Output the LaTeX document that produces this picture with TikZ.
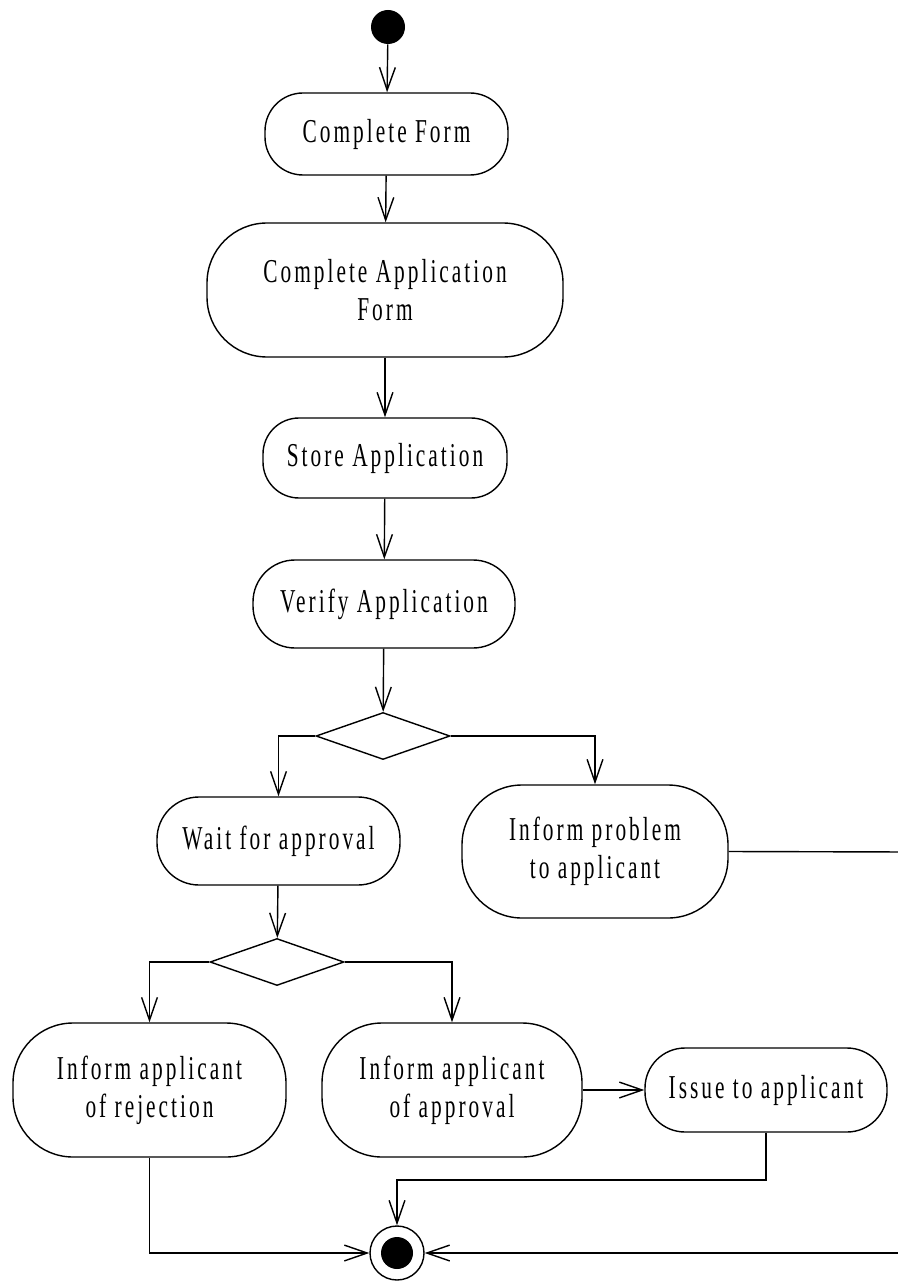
\documentclass[tikz,border=0pt]{standalone}
\usepackage{fontspec}
\newfontfamily\actfont[FakeStretch=0.64,LetterSpace=9]{Liberation Serif}
\usetikzlibrary{arrows.meta,shapes.geometric}
\tikzset{
  act/.style n args={3}{draw, line width=0.8pt, rectangle, rounded corners={#3*0.02cm},
    minimum width={#1*0.02cm}, minimum height={#2*0.02cm}, inner sep=0pt, align=center,
    font=\actfont\fontsize{19}{21.5}\selectfont},
  dec/.style={draw, line width=0.8pt, diamond, inner sep=0pt, minimum width={134*0.02cm}, minimum height={47*0.02cm}},
  flow/.style={line width=0.8pt, -{Straight Barb[length=13pt,width=9pt,line width=0.8pt]}},
  line/.style={line width=0.8pt},
}
\begin{document}
\begin{tikzpicture}[x=0.02cm,y=-0.02cm]
\useasboundingbox (0,0) rectangle (897,1283);
\node[circle, fill=black, inner sep=0pt, minimum size={34*0.02cm}] (start) at (388,27) {};
\node[act={243}{82}{38}] (cf) at (386.5,134) {Complete Form};
\node[act={356}{134}{60}] (caf) at (385,290) {Complete Application\\Form};
\node[act={244}{80}{36}] (sa) at (385,458) {Store Application};
\node[act={262}{88}{42}] (va) at (384,604) {Verify Application};
\node[dec] (d1) at (383,736) {};
\node[act={243}{88}{42}] (wa) at (278.5,841) {Wait for approval};
\node[act={266}{133}{60}] (ip) at (595,851.5) {Inform problem\\to applicant};
\node[dec] (d2) at (277,962) {};
\node[act={273}{134}{60}] (rej) at (149.5,1090) {Inform applicant\\of rejection};
\node[act={260}{134}{60}] (app) at (452,1090) {Inform applicant\\of approval};
\node[act={242}{84}{40}] (iss) at (766,1090) {Issue to applicant};
\node[circle, draw, line width=0.8pt, inner sep=0pt, minimum size={54*0.02cm}] (fin) at (397,1253) {};
\node[circle, fill=black, inner sep=0pt, minimum size={32*0.02cm}] (fini) at (397,1253) {};
\coordinate (bend) at (397,1180);
\coordinate (rx1) at (910,852);
\coordinate (rx2) at (910,1253);

\draw[flow] (start) -- (cf);
\draw[flow] (cf) -- (caf);
\draw[flow] (caf) -- (sa);
\draw[flow] (sa) -- (va);
\draw[flow] (va) -- (d1);
\draw[flow] (d1.west) -| (wa.north);
\draw[flow] (d1.east) -| (ip.north);
\draw[flow] (wa) -- (d2);
\draw[flow] (d2.west) -| (rej.north);
\draw[flow] (d2.east) -| (app.north);
\draw[flow] (app) -- (iss);
\draw[flow] (iss.south) |- (bend) -- (fin.north);
\draw[flow] (rej.south) |- (fin.west);
\draw[line] (ip.east) -- (rx1) -- (rx2);
\draw[flow] (rx2) -- (fin.east);
\end{tikzpicture}
\end{document}
